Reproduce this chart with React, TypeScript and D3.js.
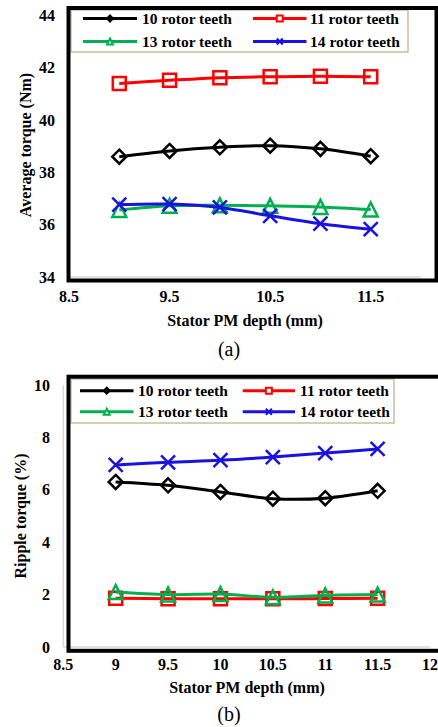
import React from "react";
import * as d3 from "d3";

// Stator PM depth (mm) for every measured design
const depths = [9, 9.5, 10, 10.5, 11, 11.5];

const seriesNames = ["10 rotor teeth", "11 rotor teeth", "13 rotor teeth", "14 rotor teeth"];

// (a) Average torque (Nm)
const avgTorque10 = [38.6, 38.82, 38.96, 39.02, 38.9, 38.62];
const avgTorque11 = [41.4, 41.52, 41.62, 41.66, 41.68, 41.66];
const avgTorque13 = [36.56, 36.72, 36.74, 36.72, 36.68, 36.58];
const avgTorque14 = [36.77, 36.79, 36.66, 36.34, 36.04, 35.83];

// (b) Ripple torque (%)
const ripple10 = [6.3, 6.17, 5.92, 5.66, 5.68, 5.96];
const ripple11 = [1.86, 1.84, 1.84, 1.84, 1.85, 1.86];
const ripple13 = [2.1, 2.0, 2.02, 1.9, 1.97, 2.0];
const ripple14 = [6.95, 7.05, 7.13, 7.25, 7.4, 7.56];

const ticksXA = [8.5, 9.5, 10.5, 11.5];
const ticksYA = [34, 36, 38, 40, 42, 44];
const ticksXB = [8.5, 9, 9.5, 10, 10.5, 11, 11.5, 12];
const ticksYB = [0, 2, 4, 6, 8, 10];

const COLORS = ["#000000", "#ff0000", "#00b050", "#1a12e0"];
const MARKERS = ["diamond", "square", "triangle", "cross"];
const FONT = "Liberation Serif, Times New Roman, Times, DejaVu Serif, serif";

function markerPath(kind: string, r: number): string {
  switch (kind) {
    case "diamond":
      return `M0,${-r}L${r},0L0,${r}L${-r},0Z`;
    case "square":
      return `M${-r},${-r}H${r}V${r}H${-r}Z`;
    case "triangle":
      return `M0,${-r}L${r},${r}L${-r},${r}Z`;
    default:
      return `M${-r},${-r}L${r},${r}M${r},${-r}L${-r},${r}`;
  }
}

type Box = { x0: number; y0: number; x1: number; y1: number };

type PanelProps = {
  series: number[][];
  xDomain: [number, number];
  xRange: [number, number];
  yDomain: [number, number];
  yRange: [number, number];
  xTicks: number[];
  yTicks: number[];
  frame: Box;
  legend: Box & { rows: number[]; cols: number[][] };
  yTickRight: number;
  xTickBaseline: number;
  yTitle: string;
  yTitleX: number;
  yTitleY: number;
  xTitleX: number;
  xTitleY: number;
  caption: string;
  captionY: number;
};

const bold = { fontFamily: FONT, fontWeight: 700 } as const;

function Panel(p: PanelProps) {
  const x = d3.scaleLinear().domain(p.xDomain).range(p.xRange);
  const y = d3.scaleLinear().domain(p.yDomain).range(p.yRange);
  const line = d3
    .line<number>()
    .x((_, i) => x(depths[i]))
    .y((v) => y(v))
    .curve(d3.curveCatmullRom.alpha(0.5));
  const plotLeft = p.xRange[0];
  const plotRight = p.xRange[1];
  const f = p.frame;
  const lg = p.legend;

  return (
    <g>
      {/* plot area axes */}
      <line x1={plotLeft} x2={plotRight} y1={y(p.yDomain[0])} y2={y(p.yDomain[0])} stroke="#d9d9d9" strokeWidth={1.5} />
      <line x1={plotLeft} x2={plotLeft} y1={y(p.yDomain[0])} y2={y(p.yDomain[1])} stroke="#d9d9d9" strokeWidth={1.5} />

      {/* tick labels */}
      {p.yTicks.map((t) => (
        <text key={`y${t}`} x={p.yTickRight} y={y(t)} dy="0.35em" textAnchor="end" style={{ ...bold, fontSize: 16 }}>
          {String(t)}
        </text>
      ))}
      {p.xTicks.map((t) => (
        <text key={`x${t}`} x={x(t)} y={p.xTickBaseline} textAnchor="middle" style={{ ...bold, fontSize: 16 }}>
          {String(t)}
        </text>
      ))}

      {/* series */}
      {p.series.map((vals, si) => (
        <g key={`s${si}`}>
          <path d={line(vals) ?? ""} fill="none" stroke={COLORS[si]} strokeWidth={3} />
          {vals.map((v, i) => (
            <path
              key={i}
              transform={`translate(${x(depths[i])},${y(v)})`}
              d={markerPath(MARKERS[si], MARKERS[si] === "square" ? 6.5 : 7)}
              fill="none"
              stroke={COLORS[si]}
              strokeWidth={2.5}
            />
          ))}
        </g>
      ))}

      {/* legend */}
      <rect x={lg.x0} y={lg.y0} width={lg.x1 - lg.x0} height={lg.y1 - lg.y0} fill="#ffffff" stroke="#c8bf9c" strokeWidth={1.5} />
      {seriesNames.map((name, si) => {
        const row = lg.rows[Math.floor(si / 2)];
        const [lx0, lx1, tx] = lg.cols[si % 2];
        const kind = MARKERS[si];
        return (
          <g key={name}>
            <line x1={lx0} x2={lx1} y1={row} y2={row} stroke={COLORS[si]} strokeWidth={3} />
            <path
              transform={`translate(${(lx0 + lx1) / 2},${row})`}
              d={markerPath(kind, 3)}
              fill={kind === "diamond" ? COLORS[si] : "#ffffff"}
              stroke={COLORS[si]}
              strokeWidth={2}
            />
            <text x={tx} y={row} dy="0.35em" style={{ ...bold, fontSize: 15.5 }}>
              {name}
            </text>
          </g>
        );
      })}

      {/* chart frame */}
      <rect x={f.x0} y={f.y0} width={f.x1 - f.x0} height={f.y1 - f.y0} fill="none" stroke="#000" strokeWidth={4} />

      {/* titles */}
      <text
        transform={`translate(${p.yTitleX},${p.yTitleY}) rotate(-90)`}
        textAnchor="middle"
        dy="0.35em"
        style={{ ...bold, fontSize: 16 }}
      >
        {p.yTitle}
      </text>
      <text x={p.xTitleX} y={p.xTitleY} textAnchor="middle" style={{ ...bold, fontSize: 16 }}>
        Stator PM depth (mm)
      </text>
      <text x={229} y={p.captionY} textAnchor="middle" style={{ fontFamily: FONT, fontSize: 20 }}>
        {p.caption}
      </text>
    </g>
  );
}

export default function App() {
  return (
    <svg width={438} height={727} style={{ position: "absolute", left: 0, top: 0, background: "#fff" }}>
      <Panel
        series={[avgTorque10, avgTorque11, avgTorque13, avgTorque14]}
        xDomain={[8.5, 12]}
        xRange={[69, 421]}
        yDomain={[34, 44]}
        yRange={[277, 15.5]}
        xTicks={ticksXA}
        yTicks={ticksYA}
        frame={{ x0: 68.5, y0: 8, x1: 436.5, y1: 280.5 }}
        legend={{
          x0: 71,
          y0: 10,
          x1: 408,
          y1: 52,
          rows: [18.5, 41.5],
          cols: [
            [83, 137, 142],
            [253, 306.5, 310],
          ],
        }}
        yTickRight={55}
        xTickBaseline={301.5}
        yTitle="Average torque (Nm)"
        yTitleX={25}
        yTitleY={145}
        xTitleX={245}
        xTitleY={325.5}
        caption="(a)"
        captionY={356}
      />
      <Panel
        series={[ripple10, ripple11, ripple13, ripple14]}
        xDomain={[8.5, 12]}
        xRange={[63.3, 430]}
        yDomain={[0, 10]}
        yRange={[647, 385]}
        xTicks={ticksXB}
        yTicks={ticksYB}
        frame={{ x0: 68.5, y0: 376.7, x1: 450, y1: 650.8 }}
        legend={{
          x0: 71,
          y0: 379,
          x1: 394,
          y1: 423,
          rows: [390.7, 411.7],
          cols: [
            [80, 133.5, 138],
            [242.7, 295, 300],
          ],
        }}
        yTickRight={50}
        xTickBaseline={670}
        yTitle="Ripple torque (%)"
        yTitleX={20}
        yTitleY={516}
        xTitleX={247}
        xTitleY={692.5}
        caption="(b)"
        captionY={721}
      />
    </svg>
  );
}
